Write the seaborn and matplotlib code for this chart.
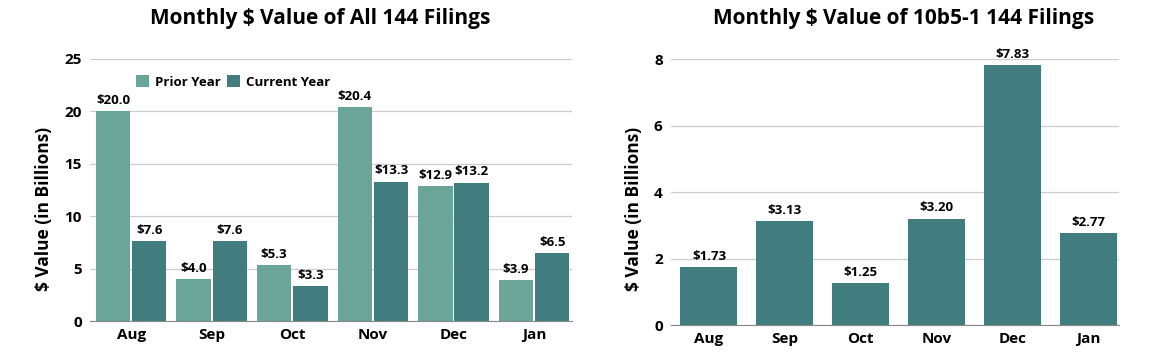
import numpy as np
import pandas as pd
import matplotlib.pyplot as plt
import seaborn as sns

# Data
months = ["Aug", "Sep", "Oct", "Nov", "Dec", "Jan"]
prior_year = [20.0, 4.0, 5.3, 20.4, 12.9, 3.9]
current_year = [7.6, 7.6, 3.3, 13.3, 13.2, 6.5]
plan_10b51 = [1.73, 3.13, 1.25, 3.20, 7.83, 2.77]

prior_color = "#6ba59a"
current_color = "#417d7e"

sns.set_style("white")
plt.rcParams["font.family"] = ["Open Sans", "DejaVu Sans"]
plt.rcParams["font.weight"] = "bold"
for k in ("text.color", "axes.labelcolor", "xtick.color", "ytick.color"):
    plt.rcParams[k] = "black"

W = "bold"

allData = pd.DataFrame({
    "month": months * 2,
    "value": prior_year + current_year,
    "year": ["Prior Year"] * 6 + ["Current Year"] * 6,
})
planData = pd.DataFrame({"month": months, "value": plan_10b51})

fig = plt.figure(figsize=(11.7, 3.61), dpi=100)
ax1 = fig.add_axes([0.0769, 0.1108, 0.412, 0.7258])
ax2 = fig.add_axes([0.5735, 0.0997, 0.383, 0.7368])

# Left chart: all filings
sns.barplot(allData, x="month", y="value", hue="year", ax=ax1,
            palette=[prior_color, current_color], width=0.9, gap=0.05,
            saturation=1, edgecolor="none")
for cont in ax1.containers:
    ax1.bar_label(cont, labels=[f"${v:.1f}" for v in cont.datavalues],
                  padding=3, fontsize=9.5, fontweight=W)
ax1.set_ylim(0, 25)
ax1.set_yticks([0, 5, 10, 15, 20, 25])
ax1.set_xlim(-0.51, 5.47)
leg = ax1.legend(loc="center left", bbox_to_anchor=(0.085, 0.912), ncol=2, frameon=False,
                 fontsize=9.5, handlelength=1.0, handleheight=1.0, handletextpad=0.4,
                 columnspacing=0.5, borderaxespad=0)
for t in leg.get_texts():
    t.set_fontweight(W)
ax1.set_title("Monthly $ Value of All 144 Filings", fontsize=15, fontweight=W, pad=25, x=0.477)
ax1.set_ylabel("$ Value (in Billions)", fontsize=12.5, fontweight=W, labelpad=8, y=0.427)

# Right chart: 10b5-1 filings
sns.barplot(planData, x="month", y="value", ax=ax2, color=current_color,
            width=0.75, saturation=1, edgecolor="none")
ax2.bar_label(ax2.containers[0], labels=[f"${v:.2f}" for v in plan_10b51],
              padding=3, fontsize=9.5, fontweight=W)
ax2.set_ylim(0, 8)
ax2.set_yticks([0, 2, 4, 6, 8])
ax2.set_xlim(-0.5, 5.4)
ax2.set_title("Monthly $ Value of 10b5-1 144 Filings", fontsize=15, fontweight=W, pad=25, x=0.518)
ax2.set_ylabel("$ Value (in Billions)", fontsize=12.5, fontweight=W, labelpad=8, y=0.436)

for ax in (ax1, ax2):
    ax.set_xlabel("")
    ax.grid(axis="y", color="#cccccc", linewidth=0.9)
    ax.set_axisbelow(True)
    for s in ("top", "right", "left"):
        ax.spines[s].set_visible(False)
    ax.spines["bottom"].set_color("#888888")
    ax.tick_params(axis="both", length=0, labelsize=11)
    ax.tick_params(axis="y", pad=6)
    ax.tick_params(axis="x", pad=5)
    for lbl in ax.get_xticklabels() + ax.get_yticklabels():
        lbl.set_fontweight(W)

fig.savefig("out.png", dpi=100)
